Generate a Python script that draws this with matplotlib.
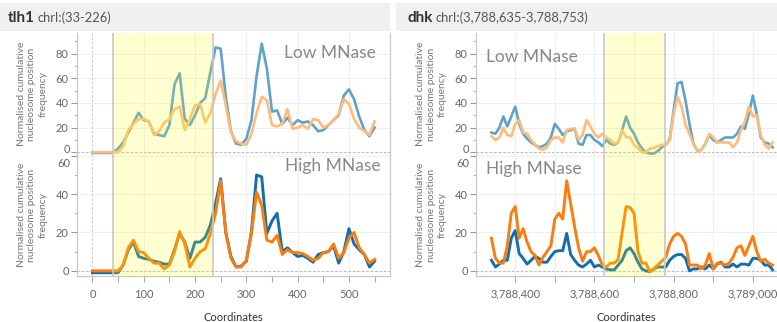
import matplotlib
matplotlib.use('Agg')
import matplotlib.pyplot as plt
import matplotlib.ticker as mticker
from matplotlib.patches import Rectangle

plt.rcParams['font.family'] = ['Lato', 'DejaVu Sans']

# ---- data: tlh1 (x step 10 from 0 to 550) ----
tlh1_x = list(range(0, 560, 10))
tlh1_low_a = [-0.5, -0.5, -0.5, -0.5, -0.5, 3, 8, 16, 24, 32, 26, 25, 15, 14, 13, 22,
              55, 64, 27, 22, 30, 40, 44, 65, 85, 84, 45, 17, 7, 6, 11, 26, 62, 88,
              68, 33, 34, 23, 28, 22, 26, 24, 25, 22, 17, 18, 22, 26, 30, 46, 51, 43,
              29, 18, 13, 20]
tlh1_low_b = [0, 0, 0, 0, 0, 0, 5, 18, 23, 27, 27, 25, 14, 17, 24, 27, 35, 37, 18, 27,
              38, 39, 24, 32, 47, 58, 38, 16, 9, 7, 6, 15, 32, 45, 42, 22, 21, 23, 35,
              19, 20, 22, 19, 27, 26, 20, 22, 26, 31, 43, 39, 27, 20, 17, 14, 25]
tlh1_high_a = [-1, -1, -1, -1, -1, -1, 3, 11, 15, 7.5, 6.5, 6, 5, 4.5, 3.5, 3.5, 11,
               19.5, 15, 6.5, 15, 15, 17.5, 24, 35, 48, 20, 7.5, 2, 2.5, 5, 20.5, 50,
               49, 19.5, 26, 30, 10, 12, 9.5, 7.5, 8, 6.5, 4.5, 8.5, 9.5, 10, 13, 4,
               10, 22, 14, 11, 8.5, 2, 5]
tlh1_high_b = [0, 0, 0, 0, 0, 0, 3, 12, 16, 10, 9.5, 6.5, 4, 4, 1, 3, 10, 20.5, 14, 2,
               6.5, 10, 11.5, 19.5, 30, 47, 20, 6.5, 2, 2, 5.5, 19.5, 41, 34, 16, 15,
               18.5, 8.5, 11, 9.5, 9.5, 9, 7.5, 5.5, 6.5, 9.5, 10, 14, 6.5, 9.5, 17,
               20, 12, 8.5, 4, 6]

# ---- data: dhk (x step 10 from 3,788,340 to 3,789,050) ----
dhk_x = list(range(3788340, 3789060, 10))
dhk_low_a = [16, 15, 20, 29, 21, 29, 37, 23, 15, 11, 8, 6, 4, 5, 7, 12, 23, 19, 14, 17,
             18, 19, 7, 6, 14, 14, 10, 8, 5, 10, 7, 6, 8, 18, 29, 20, 15, 8, 3, 0, -1,
             -1, 1, 4, 6, 10, 34, 56, 57, 42, 23, 7, 1, 2, 7, 14, 10, 8, 10, 12, 12,
             12, 15, 21, 19, 31, 46, 31, 12, 8, 7, 4]
dhk_low_b = [13, 10, 12, 20, 14, 13, 23, 26, 16, 15, 10, 6, 3, 2, 4, 10, 12, 12, 8, 18,
             19, 19, 10, 14, 26, 21, 15, 12, 15, 12, 10, 7, 8, 18, 12, 12, 6, 3.5, 0,
             0, 3, 3.5, 5, 6, 6, 10, 31, 45, 37, 22, 15, 7, 1, 2, 7, 15, 12, 8, 8, 8,
             8, 4, 8, 18, 25, 37, 29, 30, 14, 6, 3, 8]
dhk_high_a = [5.5, 2, 3.5, 5.5, 5.5, 17, 21, 9, 6.5, 3.5, 5.5, 7.5, 6.5, 4.5, 4.5, 7.5,
              10, 10.5, 10.5, 19.5, 8.5, 5.5, 3, 2, 3.5, 5.5, 2, 3, 2, 1, 0.5, 0.5, 3,
              5.5, 10.5, 12, 9, 4.5, 1, 0, -0.5, 1, 2, 2, 2, 5.5, 7.5, 8.5, 8.5, 6.5,
              0, 1, 1, 2, 1, 3, 1, 3.5, 4.5, 2, 2, 3.5, 2, 3.5, 3.5, 3, 6.5, 6.5, 5.5,
              3, 3, 0.5]
dhk_high_b = [17, 6.5, 4, 4, 13, 30, 33.5, 17, 22, 15, 10, 8, 3, 7, 10, 13, 27, 30, 27,
              47, 35, 23, 12, 5, 10, 10, 12, 8, 3, 2, 4, 4, 6, 20, 33.5, 33, 30, 10, 4,
              4, -0.5, 1, 3, 5, 7, 14, 18, 19.5, 18, 14, 3, 3, 3, 1, 3, 9, 1, 4, 4, 3,
              4, 7, 12, 13, 8, 13, 18, 10, 5, 6, 4, 3]

titles = [('tlh1', 'chrI:(33-226)'), ('dhk', 'chrI:(3,788,635-3,788,753)')]
bands = [(40, 236), (3788624, 3788779)]
low_yticks = [0, 20, 40, 60, 80]
high_yticks = [0, 20, 40, 60]

LOW_A, LOW_B = '#5fa2ce', '#ffbc79'
HIGH_A, HIGH_B = '#1170aa', '#fc7d0b'

W, H = 777, 322
fig = plt.figure(figsize=(W / 100, H / 100), dpi=100)


def rect(x0, y0, x1, y1):
    return [x0 / W, 1 - y1 / H, (x1 - x0) / W, (y1 - y0) / H]


def style(ax, xlim, ylim, yticks, bottom, shifted):
    ax.set_xlim(*xlim)
    ax.set_ylim(*ylim)
    ax.spines['top'].set_visible(False)
    for s in ['left', 'right', 'bottom']:
        ax.spines[s].set_color('#c8c8c8')
        ax.spines[s].set_linewidth(0.9)
    ax.set_yticks(yticks)
    ax.yaxis.set_minor_locator(mticker.MultipleLocator(10))
    # labels near the pane edge are drawn by hand, nudged inside like the reference
    ax.set_yticklabels(['' if v in shifted else str(v) for v in yticks])
    for v, dy in shifted.items():
        ax.annotate(str(v), xy=(0, v), xycoords=('axes fraction', 'data'),
                    xytext=(-7, dy), textcoords='offset pixels', ha='right',
                    va='center', fontsize=8, color='#666666',
                    annotation_clip=False, clip_on=False)
    ax.tick_params(axis='y', which='major', length=4, color='#999999',
                   labelsize=8, labelcolor='#666666', pad=2)
    ax.tick_params(axis='y', which='minor', length=2, color='#aaaaaa')
    ax.grid(axis='y', which='major', color='#efefef', lw=0.8)
    ax.axhline(0, color='#bbbbbb', lw=0.8, ls=(0, (2, 2)), zorder=1)
    if not bottom:
        ax.tick_params(axis='x', which='both', length=0, labelbottom=False)
    ax.set_axisbelow(True)


def add_band(ax, band):
    ax.axvspan(band[0], band[1], facecolor='#ffff00', alpha=0.18, lw=0, zorder=5)
    ax.axvline(band[0], color='#c8c8c8', lw=1.2, zorder=6)
    ax.axvline(band[1], color='#c8c8c8', lw=1.2, zorder=6)


panels = [
    dict(x=tlh1_x, low=(tlh1_low_a, tlh1_low_b), high=(tlh1_high_a, tlh1_high_b),
         px=(77, 390), xlim=(-30, 580), tick=50, grid=100, label_every=100,
         txt_low=(0.955, 0.835, 'right'), txt_high=(0.97, 0.905, 'right'),
         ylab_x=32, title_x=8, bar=(0, 390)),
    dict(x=dhk_x, low=(dhk_low_a, dhk_low_b), high=(dhk_high_a, dhk_high_b),
         px=(476, 777), xlim=(3788301, 3789061), tick=100, grid=100, label_every=200,
         txt_low=(0.033, 0.80, 'left'), txt_high=(0.033, 0.885, 'left'),
         ylab_x=431, title_x=407, bar=(396, 777)),
]

for i, p in enumerate(panels):
    x0, x1 = p['px']
    # title bar
    bx0, bx1 = p['bar']
    fig.add_artist(Rectangle((bx0 / W, 1 - 31 / H), (bx1 - bx0) / W, 28 / H,
                             transform=fig.transFigure, facecolor='#f0f0f0', lw=0,
                             zorder=-5))
    t1 = fig.text(p['title_x'] / W, 1 - 18 / H, titles[i][0], fontsize=11,
                  fontweight='bold', color='#333333', va='center')

    ax_lo = fig.add_axes(rect(x0, 33, x1, 155))
    ax_hi = fig.add_axes(rect(x0, 155, x1, 276))

    ax_lo.annotate(titles[i][1], xy=(1, 0.5), xycoords=t1, xytext=(3, 0),
                   textcoords='offset pixels', fontsize=9.3, color='#555555',
                   va='center', annotation_clip=False, clip_on=False)

    ax_lo.plot(p['x'], p['low'][0], color=LOW_A, lw=1.9, zorder=3)
    ax_lo.plot(p['x'], p['low'][1], color=LOW_B, lw=1.9, zorder=3)
    ax_hi.plot(p['x'], p['high'][0], color=HIGH_A, lw=2.1, zorder=3)
    ax_hi.plot(p['x'], p['high'][1], color=HIGH_B, lw=2.1, zorder=3)

    style(ax_lo, p['xlim'], (-2.2, 96.7), low_yticks, False, {0: 3})
    style(ax_hi, p['xlim'], (-2.7, 60.4), high_yticks, True, {60: -8})

    for ax in (ax_lo, ax_hi):
        ax.xaxis.set_major_locator(mticker.MultipleLocator(p['tick']))
        for g in range(int(p['xlim'][0] // p['grid'] + 1) * p['grid'],
                       int(p['xlim'][1]) + 1, p['grid']):
            if g == 0:
                ax.axvline(g, color='#c8c8c8', lw=0.8, ls=(0, (2, 2)), zorder=1)
            else:
                ax.axvline(g, color='#efefef', lw=0.8, zorder=0)
        add_band(ax, bands[i])
        if i == 1:
            ax.spines['right'].set_visible(False)

    le = p['label_every']
    ax_hi.xaxis.set_major_formatter(mticker.FuncFormatter(
        lambda v, pos, le=le: f'{int(round(v)):,}' if round(v) % le == 0 else ''))
    ax_hi.tick_params(axis='x', length=4, color='#aaaaaa', labelsize=8,
                      labelcolor='#666666', pad=5)

    ax_hi.set_xlabel('Coordinates', fontsize=8, color='#333333', labelpad=9)

    tx, ty, ha = p['txt_low']
    ax_lo.text(tx, ty, 'Low MNase', transform=ax_lo.transAxes, fontsize=12.5,
               color='#888888', ha=ha, va='center', zorder=10)
    tx, ty, ha = p['txt_high']
    ax_hi.text(tx, ty, 'High MNase', transform=ax_hi.transAxes, fontsize=12.5,
               color='#888888', ha=ha, va='center', zorder=10)

    for yc in (94, 215):
        fig.text(p['ylab_x'] / W, 1 - yc / H,
                 'Normalised cumulative\nnucleosome position\nfrequency',
                 rotation=90, ha='center', va='center', fontsize=7.5,
                 color='#777777', linespacing=1.25, multialignment='center')

fig.savefig('out.png', dpi=100)
